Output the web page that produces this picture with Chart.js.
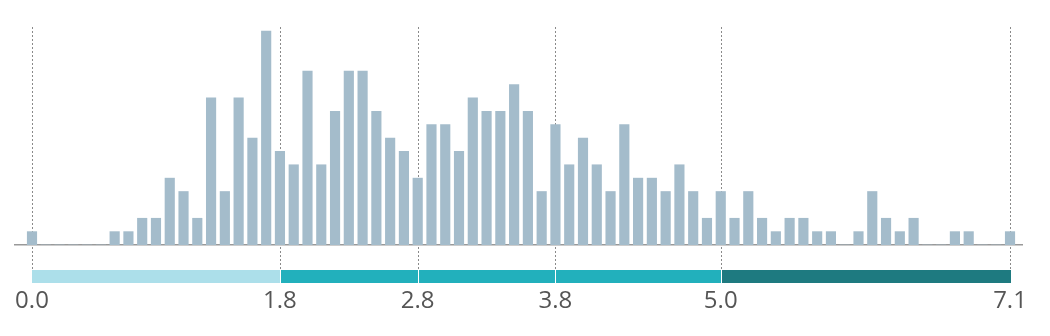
<!DOCTYPE html>
<html>
<head>
<meta charset="utf-8">
<script src="https://cdn.jsdelivr.net/npm/chart.js@4"></script>
<style>
  html, body { margin: 0; padding: 0; background: #fff; }
  #wrap { width: 1050px; height: 336px; }
</style>
</head>
<body>
<div id="wrap"><canvas id="chart"></canvas></div>
<script>
const bins = [
  0.0, 0.1, 0.2, 0.3, 0.4, 0.5, 0.6, 0.7, 0.8, 0.9,
  1.0, 1.1, 1.2, 1.3, 1.4, 1.5, 1.6, 1.7, 1.8, 1.9,
  2.0, 2.1, 2.2, 2.3, 2.4, 2.5, 2.6, 2.7, 2.8, 2.9,
  3.0, 3.1, 3.2, 3.3, 3.4, 3.5, 3.6, 3.7, 3.8, 3.9,
  4.0, 4.1, 4.2, 4.3, 4.4, 4.5, 4.6, 4.7, 4.8, 4.9,
  5.0, 5.1, 5.2, 5.3, 5.4, 5.5, 5.6, 5.7, 5.8, 5.9,
  6.0, 6.1, 6.2, 6.3, 6.4, 6.5, 6.6, 6.7, 6.8, 6.9,
  7.0, 7.1,
];
const counts = [
  1, 0, 0, 0, 0, 0, 1, 1, 2, 2,
  5, 4, 2, 11, 4, 11, 8, 16, 7, 6,
  13, 6, 10, 13, 13, 10, 8, 7, 5, 9,
  9, 7, 11, 10, 10, 12, 10, 4, 9, 6,
  8, 6, 4, 9, 5, 5, 4, 6, 4, 2,
  4, 2, 4, 2, 1, 2, 2, 1, 1, 0,
  1, 4, 2, 1, 2, 0, 0, 1, 1, 0,
  0, 1,
];
const breaks = [0.0, 1.8, 2.8, 3.8, 5.0, 7.1];
const bandColors = ['#acdfea', '#22b0bc', '#22b0bc', '#22b0bc', '#1e7a80'];

const bandPlugin = {
  id: 'band',
  beforeDatasetsDraw: chart => {
    const x = chart.scales.x;
    const ctx = chart.ctx;
    const top = chart.chartArea.top;
    ctx.save();
    ctx.setLineDash([2, 2]);
    ctx.lineWidth = 1;
    ctx.strokeStyle = '#8a8a8a';
    for (const b of breaks) {
      const px = Math.round(x.getPixelForValue(b)) + 0.5;
      ctx.beginPath();
      ctx.moveTo(px, top);
      ctx.lineTo(px, 269);
      ctx.stroke();
    }
    ctx.restore();
  },
  afterDraw: chart => {
    const x = chart.scales.x;
    const ctx = chart.ctx;
    ctx.save();
    for (let i = 0; i < bandColors.length; i++) {
      const x0 = Math.round(x.getPixelForValue(breaks[i]));
      const x1 = Math.round(x.getPixelForValue(breaks[i + 1]));
      const last = i === bandColors.length - 1;
      ctx.fillStyle = bandColors[i];
      ctx.fillRect(x0 + (i ? 1 : 0), 270, x1 - x0 - (i ? 1 : 0) + (last ? 1 : 0), 13);
    }
    ctx.restore();
  },
};

new Chart(document.getElementById('chart'), {
  type: 'bar',
  data: {
    datasets: [{
      data: bins.map((b, i) => ({ x: b, y: counts[i] })),
      backgroundColor: '#a4bccb',
      borderWidth: 0,
      barThickness: 9.5,
    }],
  },
  options: {
    responsive: true,
    maintainAspectRatio: false,
    animation: false,
    layout: { padding: { top: 27, left: 15, right: 28, bottom: 23 } },
    scales: {
      x: {
        type: 'linear',
        offset: false,
        min: -0.1234,
        max: 7.187,
        afterBuildTicks: axis => { axis.ticks = breaks.map(v => ({ value: v })); },
        afterFit: axis => {
          axis.height = 68;
          axis.paddingLeft = 0;
          axis.paddingRight = 0;
        },
        grid: { display: false, drawTicks: false, offset: false },
        border: { display: true, color: '#999', width: 1.5 },
        ticks: {
          padding: 42,
          maxRotation: 0,
          autoSkip: false,
          color: '#555',
          font: { family: 'Open Sans', size: 24 },
          callback: v => Number(v).toFixed(1),
        },
      },
      y: { display: false, min: 0, max: 16.3 },
    },
    plugins: {
      legend: { display: false },
      tooltip: { enabled: false },
    },
  },
  plugins: [bandPlugin],
});
</script>
</body>
</html>
